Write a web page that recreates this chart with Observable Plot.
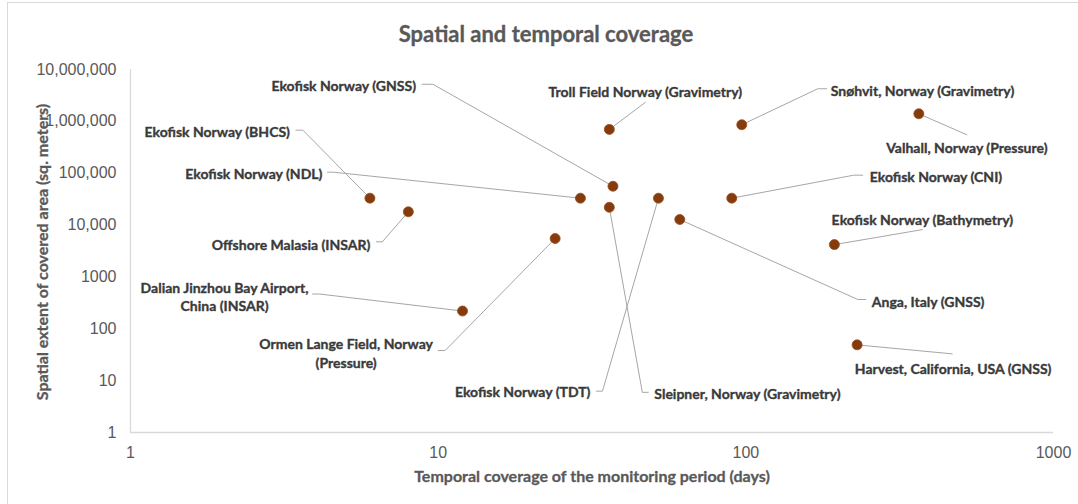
<!DOCTYPE html>
<html>
<head>
<meta charset="utf-8">
<script src="https://cdn.jsdelivr.net/npm/d3@7"></script>
<script src="https://cdn.jsdelivr.net/npm/@observablehq/plot@0.6"></script>
<style>
  html, body { margin: 0; padding: 0; background: #ffffff; }
  #wrap { position: relative; width: 1078px; height: 504px; overflow: hidden; background: #fff; }
  #border { position: absolute; left: 7px; top: 2px; width: 1100px; height: 600px;
            border-left: 1px solid #d9d9d9; border-top: 1px solid #d9d9d9; pointer-events: none; }
  #title { position: absolute; top: 20px; left: 0; width: 1092px; text-align: center;
           font: 700 22px Lato, "Open Sans", sans-serif; line-height: 28px; color: #595959;
           -webkit-text-stroke: 0.3px #595959; }
  #ytitle { position: absolute; left: 42px; top: 252px; white-space: nowrap;
            transform: translate(-50%, -50%) rotate(-90deg);
            font: 700 16px Lato, "Open Sans", sans-serif; line-height: 20px; color: #595959;
            -webkit-text-stroke: 0.3px #595959; }
  #chart { position: absolute; left: 0; top: 0; }
</style>
</head>
<body>
<div id="wrap">
  <div id="border"></div>
  <div id="chart"></div>
  <div id="title"></div>
  <div id="ytitle"></div>
</div>
<script>
// ---- data ----
const sites = [
  "Ekofisk Norway (GNSS)",
  "Ekofisk Norway (BHCS)",
  "Ekofisk Norway (NDL)",
  "Offshore Malasia (INSAR)",
  "Dalian Jinzhou Bay Airport,\nChina (INSAR)",
  "Ormen Lange Field, Norway\n(Pressure)",
  "Ekofisk Norway (TDT)",
  "Sleipner, Norway (Gravimetry)",
  "Troll Field Norway (Gravimetry)",
  "Snøhvit, Norway (Gravimetry)",
  "Valhall, Norway (Pressure)",
  "Ekofisk Norway (CNI)",
  "Ekofisk Norway (Bathymetry)",
  "Anga, Italy (GNSS)",
  "Harvest, California, USA (GNSS)"
];
const days = [37, 6, 29, 8, 12, 24, 52, 36, 36, 97, 365, 90, 194, 61, 230];
const area = [56000, 33000, 33000, 18000, 220, 5500, 33000, 22000, 700000, 860000, 1400000, 33000, 4200, 12800, 49];

const xTicks = [1, 10, 100, 1000];
const xTickLabels = ["1", "10", "100", "1000"];
const yTicks = [1, 10, 100, 1000, 10000, 100000, 1000000, 10000000];
const yTickLabels = ["1", "10", "100", "1000", "10,000", "100,000", "1,000,000", "10,000,000"];

const chartTitle = "Spatial and temporal coverage";
const xTitle = "Temporal coverage of the monitoring period (days)";
const yTitle = "Spatial extent of covered area (sq. meters)";

// ---- label layout (pixel offsets from each point; same order as sites) ----
const labelLayout = [
  {anchor: "end",    tx: -197, ty: -101, path: [[-180, -102], [-191, -102]]},
  {anchor: "end",    tx: -80,  ty: -67,  path: [[-67, -68], [-74, -68]]},
  {anchor: "end",    tx: -258, ty: -25,  path: [[-247, -26], [-253, -26]]},
  {anchor: "end",    tx: -38,  ty: 32,   path: [[-26, 30], [-32, 30]]},
  {anchor: "middle", tx: -238, ty: -15,  path: [[-143, -17], [-150, -17]]},
  {anchor: "middle", tx: -209, ty: 114,  path: [[-110, 112], [-117, 112]]},
  {anchor: "end",    tx: -68,  ty: 193,  path: [[-56, 193], [-62, 193]]},
  {anchor: "start",  tx: 45,   ty: 186,  path: [[33, 185], [39, 185]]},
  {anchor: "middle", tx: 36,   ty: -38,  path: [[36, -27]]},
  {anchor: "start",  tx: 89,   ty: -35,  path: [[76, -36], [85, -36]]},
  {anchor: "middle", tx: 48,   ty: 33,   path: [[48, 21]]},
  {anchor: "start",  tx: 138,  ty: -22,  path: [[122, -23], [131, -23]]},
  {anchor: "middle", tx: 88,   ty: -26,  path: [[88, -15]]},
  {anchor: "start",  tx: 192,  ty: 82,   path: [[178, 80], [186, 80]]},
  {anchor: "middle", tx: 96,   ty: 23,   path: [[95, 9]]}
];

// ---- build ----
const W = 1078, H = 504;
const mL = 130, mR = 25, mT = 69, mB = 72;
const xOpt = {type: "log", domain: [1, 1000], range: [mL, W - mR]};
const yOpt = {type: "log", domain: [1, 1e7], range: [H - mB, mT]};
const xs = Plot.scale({x: xOpt});
const ys = Plot.scale({y: yOpt});

const points = sites.map((s, i) => ({site: s, days: days[i], area: area[i]}));
const labels = points.map((p, i) => {
  const L = labelLayout[i];
  const px = xs.apply(p.days), py = ys.apply(p.area);
  return {site: p.site, anchor: L.anchor, lx: xs.invert(px + L.tx), ly: ys.invert(py + L.ty)};
});
const leaders = points.flatMap((p, i) => {
  const L = labelLayout[i];
  const px = xs.apply(p.days), py = ys.apply(p.area);
  return [{site: p.site, x: p.days, y: p.area}]
    .concat(L.path.map(([dx, dy]) => ({site: p.site, x: xs.invert(px + dx), y: ys.invert(py + dy)})));
});

const xLab = new Map(xTicks.map((t, i) => [t, xTickLabels[i]]));
const yLab = new Map(yTicks.map((t, i) => [t, yTickLabels[i]]));

const labelStyle = {fontFamily: "Lato", fontWeight: 700, fontSize: 14, fill: "#3a3a3a",
                    stroke: "#3a3a3a", strokeWidth: 0.35, lineHeight: 1.33, lineAnchor: "middle"};

const chart = Plot.plot({
  width: W, height: H,
  marginLeft: mL, marginRight: mR, marginTop: mT, marginBottom: mB,
  x: xOpt, y: yOpt,
  style: {background: "transparent", overflow: "visible"},
  marks: [
    Plot.ruleX([1], {stroke: "#d9d9d9", strokeWidth: 1.3}),
    Plot.ruleY([1], {stroke: "#d9d9d9", strokeWidth: 1.3}),
    Plot.axisX(xTicks, {tickSize: 0, tickPadding: 14, tickFormat: d => xLab.get(d), fontSize: 16, fontFamily: "Liberation Sans", fill: "#595959", label: null}),
    Plot.axisY(yTicks, {tickSize: 0, tickPadding: 14, tickFormat: d => yLab.get(d), fontSize: 16, fontFamily: "Liberation Sans", fill: "#595959", label: null}),
    Plot.line(leaders, {x: "x", y: "y", z: "site", stroke: "#a6a6a6", strokeWidth: 1}),
    Plot.dot(points, {x: "days", y: "area", r: 5, fill: "#843c0c", stroke: "#9a4a1c", strokeWidth: 0.8}),
    ...["start", "end", "middle"].map(a =>
      Plot.text(labels, {filter: d => d.anchor === a, x: "lx", y: "ly", text: "site", textAnchor: a, ...labelStyle})),
    Plot.text([xTitle], {text: d => d, frameAnchor: "bottom", lineAnchor: "middle", dy: 44,
      fontFamily: "Lato", fontWeight: 700, fontSize: 16, fill: "#595959", stroke: "#595959", strokeWidth: 0.3})
  ]
});
document.getElementById("chart").appendChild(chart);
document.getElementById("title").textContent = chartTitle;
document.getElementById("ytitle").textContent = yTitle;
</script>
</body>
</html>
